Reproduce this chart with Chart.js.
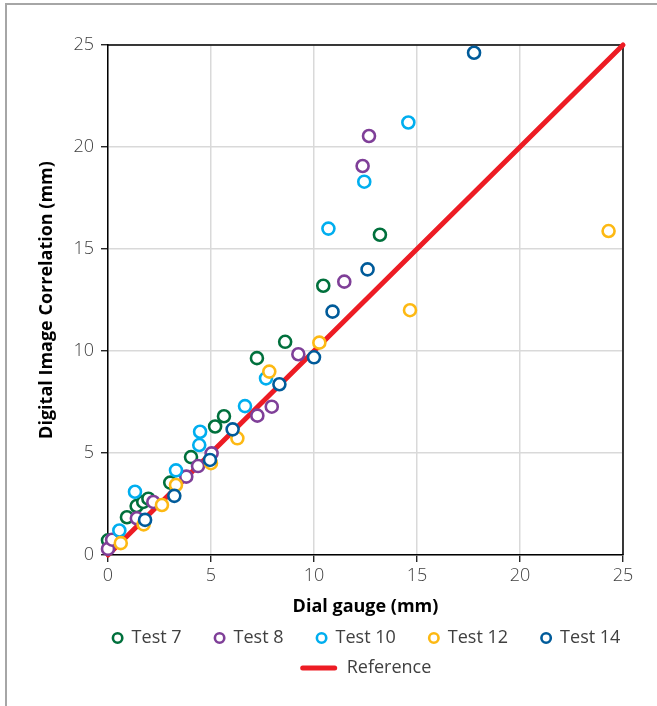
<!DOCTYPE html>
<html>
<head>
<meta charset="utf-8">
<script src="https://cdn.jsdelivr.net/npm/chart.js@4"></script>
<style>
  html, body { margin: 0; padding: 0; background: #fff; }
  #wrap { position: relative; width: 657px; height: 706px; overflow: hidden; }
  #frame { position: absolute; left: 5px; top: 3px; width: 700px; height: 800px;
           border-top: 2px solid #a6a6a6; border-left: 2px solid #a6a6a6; }
  canvas { position: absolute; left: 0; top: 0; }
</style>
</head>
<body>
<div id="wrap">
  <div id="frame"></div>
  <canvas id="c" width="657" height="706"></canvas>
</div>
<script>
// ---- data ----
const axisTicks = [0, 5, 10, 15, 20, 25];
const seriesNames = ["Test 7", "Test 8", "Test 10", "Test 12", "Test 14"];
const referenceName = "Reference";

const test7X = [0.0, 0.92, 1.39, 1.71, 1.96, 3.02, 4.03, 5.2, 5.63, 7.23, 8.6, 10.45, 13.2];
const test7Y = [0.72, 1.85, 2.4, 2.6, 2.76, 3.55, 4.8, 6.3, 6.8, 9.65, 10.45, 13.2, 15.7];

const test8X = [0.0, 0.2, 1.4, 2.2, 3.8, 4.37, 5.03, 7.25, 7.95, 9.24, 11.47, 12.36, 12.67];
const test8Y = [0.3, 0.75, 1.8, 2.6, 3.84, 4.36, 4.98, 6.83, 7.27, 9.84, 13.4, 19.07, 20.54];

const test10X = [0.55, 1.31, 3.3, 4.43, 4.47, 6.65, 7.67, 10.7, 12.44, 14.58];
const test10Y = [1.2, 3.1, 4.15, 5.39, 6.04, 7.3, 8.66, 16.0, 18.3, 21.2];

const test12X = [0.62, 1.73, 2.62, 3.3, 5.0, 6.28, 7.83, 10.26, 14.66, 24.3];
const test12Y = [0.58, 1.5, 2.45, 3.43, 4.5, 5.72, 8.99, 10.41, 12.0, 15.88];

const test14X = [1.8, 3.22, 4.95, 6.05, 8.32, 10.0, 10.9, 12.6, 17.77];
const test14Y = [1.72, 2.9, 4.66, 6.16, 8.37, 9.69, 11.93, 14.0, 24.62];

const referenceX = [0, 25];
const referenceY = [0, 25];

// ---- styling ----
const colors = ["#00703c", "#7f3f98", "#00aeef", "#fdb913", "#005b9a"];
const refColor = "#ed1c24";
const FONT = "'Open Sans', 'Noto Sans', sans-serif";

const toPts = (xs, ys) => xs.map((x, i) => ({ x: x, y: ys[i] }));
const seriesX = [test7X, test8X, test10X, test12X, test14X];
const seriesY = [test7Y, test8Y, test10Y, test12Y, test14Y];

const datasets = seriesNames.map((name, i) => ({
  type: 'scatter',
  label: name,
  data: toPts(seriesX[i], seriesY[i]),
  borderColor: colors[i],
  backgroundColor: '#ffffff',
  pointRadius: 6,
  pointHoverRadius: 6,
  pointBorderWidth: 2.6,
  order: seriesNames.length - i,
  clip: false
}));
datasets.push({
  type: 'line',
  label: referenceName,
  data: toPts(referenceX, referenceY),
  borderColor: refColor,
  backgroundColor: refColor,
  borderWidth: 5,
  borderCapStyle: 'round',
  pointRadius: 0,
  order: 10,
  clip: false
});

// top/right box lines
const boxPlugin = {
  id: 'boxLines',
  beforeDatasetsDraw(chart) {
    const a = chart.chartArea, ctx = chart.ctx;
    ctx.save();
    ctx.strokeStyle = '#000';
    ctx.lineWidth = 1.5;
    ctx.beginPath();
    ctx.moveTo(a.left, a.top); ctx.lineTo(a.right, a.top); ctx.lineTo(a.right, a.bottom);
    ctx.stroke();
    ctx.restore();
  }
};

// legend drawn from the chart's datasets
const legendPlugin = {
  id: 'customLegend',
  afterDraw(chart) {
    const ctx = chart.ctx;
    const ds = chart.data.datasets;
    const cx = 366;
    ctx.save();
    ctx.font = "18px " + FONT;
    ctx.textBaseline = 'middle';
    // row 1 : circle items
    const items = ds.filter(d => d.type === 'scatter');
    const markW = 12, gapText = 8, gapItem = 32;
    const widths = items.map(d => markW + gapText + ctx.measureText(d.label).width);
    const total = widths.reduce((a, b) => a + b, 0) + gapItem * (items.length - 1);
    let x = cx - total / 2;
    const y1 = 638;
    items.forEach((d, i) => {
      ctx.beginPath();
      ctx.arc(x + markW / 2, y1, 4.7, 0, Math.PI * 2);
      ctx.strokeStyle = d.borderColor;
      ctx.lineWidth = 2.6;
      ctx.stroke();
      ctx.fillStyle = '#404040';
      ctx.fillText(d.label, x + markW + gapText, y1);
      x += widths[i] + gapItem;
    });
    // row 2 : line item
    const lines = ds.filter(d => d.type === 'line');
    const y2 = 668;
    lines.forEach(d => {
      const lw = 36, g = 10;
      const w = lw + g + ctx.measureText(d.label).width;
      let lx = cx - w / 2;
      ctx.beginPath();
      ctx.moveTo(lx + 2, y2); ctx.lineTo(lx + lw - 2, y2);
      ctx.strokeStyle = d.borderColor;
      ctx.lineWidth = 5;
      ctx.lineCap = 'round';
      ctx.stroke();
      ctx.fillStyle = '#404040';
      ctx.fillText(d.label, lx + lw + g, y2);
    });
    ctx.restore();
  }
};

const tickCb = (v) => axisTicks.includes(v) ? String(v) : '';

new Chart(document.getElementById('c'), {
  data: { datasets: datasets },
  options: {
    responsive: false,
    animation: false,
    events: [],
    layout: { padding: { left: 0, top: 45, right: 34, bottom: 81 } },
    plugins: { legend: { display: false }, tooltip: { enabled: false } },
    scales: {
      x: {
        type: 'linear',
        position: 'bottom',
        min: axisTicks[0], max: axisTicks[axisTicks.length - 1],
        afterBuildTicks: (s) => { s.ticks = axisTicks.map(v => ({ value: v })); },
        afterFit: (s) => { s.height = 70; },
        ticks: { callback: tickCb, padding: 3, color: '#404040', maxRotation: 0,
                 font: { family: FONT, size: 18, weight: 300 } },
        grid: { color: '#d9d9d9', lineWidth: 1.5, tickLength: 7, tickColor: '#000', tickWidth: 1.2 },
        border: { display: true, color: '#000', width: 1.5 },
        title: { display: true, text: 'Dial gauge (mm)', color: '#000',
                 font: { family: FONT, size: 18, weight: 'bold' }, padding: { top: 0, bottom: 7 } }
      },
      y: {
        type: 'linear',
        position: 'left',
        min: axisTicks[0], max: axisTicks[axisTicks.length - 1],
        afterBuildTicks: (s) => { s.ticks = axisTicks.map(v => ({ value: v })); },
        afterFit: (s) => { s.width = 108; },
        ticks: { callback: tickCb, padding: 7, color: '#404040',
                 font: { family: FONT, size: 18, weight: 300 } },
        grid: { color: '#d9d9d9', lineWidth: 1.5, tickLength: 7, tickColor: '#000', tickWidth: 1.2 },
        border: { display: true, color: '#000', width: 1.5 },
        title: { display: true, text: 'Digital Image Correlation (mm)', color: '#000',
                 font: { family: FONT, size: 18, weight: 'bold' }, padding: { top: 36, bottom: 0 } }
      }
    }
  },
  plugins: [boxPlugin, legendPlugin]
});
</script>
</body>
</html>
